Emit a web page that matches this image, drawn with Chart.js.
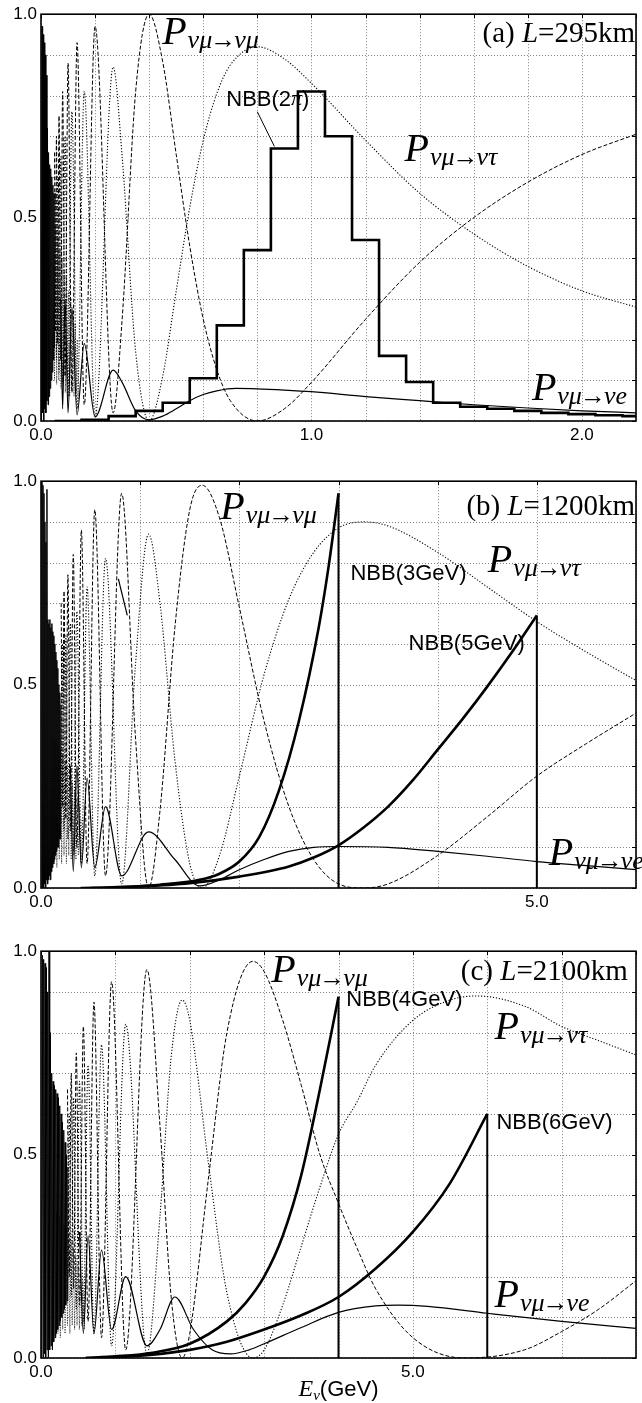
<!DOCTYPE html>
<html lang="en">
<head>
<meta charset="UTF-8">
<title>Oscillation probabilities and NBB spectra</title>
<script src="https://cdn.jsdelivr.net/npm/chart.js"></script>
<style>
  body { margin:0; background:#fff; }
  .wrap { position:relative; width:642px; height:1403px; overflow:hidden; background:#fff }
  canvas { position:absolute; left:0 }
</style>
</head>
<body>
<div class="wrap">
  <canvas id="cA" width="642" height="467" style="top:0px"></canvas>
  <canvas id="cB" width="642" height="470" style="top:467px"></canvas>
  <canvas id="cC" width="642" height="466" style="top:937px"></canvas>
</div>
<script>
// ---- data: [E (GeV), probability / flux] ----
// (a) L=295km
const aMuMu = [[0.05,0.66],[0.0533,0.22],[0.0571,0.70],[0.0615,0.19],[0.0667,0.75],[0.0727,0.15],[0.08,0.81],[0.0889,0.11],[0.1,0.88],[0.1143,0.07],[0.1333,0.93],[0.16,0.04],[0.2,0.97],[0.2667,0.02],[0.3,0.25],[0.35,0.81],[0.4,1.0],[0.45,0.883],[0.5,0.655],[0.55,0.43],[0.6,0.25],[0.65,0.126],[0.7,0.05],[0.8,0.0],[0.9,0.03],[1.0,0.095],[1.2,0.25],[1.4,0.39],[1.6,0.5],[1.8,0.587],[2.0,0.655],[2.2,0.705]];
const aMuTau = [[0.05,0.18],[0.0533,0.56],[0.0571,0.15],[0.0615,0.60],[0.0667,0.12],[0.0727,0.65],[0.08,0.09],[0.0889,0.70],[0.1,0.06],[0.1143,0.76],[0.1333,0.03],[0.16,0.81],[0.2,0.01],[0.2667,0.87],[0.3,0.65],[0.35,0.17],[0.4,0.0],[0.45,0.11],[0.5,0.32],[0.55,0.525],[0.6,0.69],[0.65,0.805],[0.7,0.875],[0.8,0.92],[0.9,0.89],[1.0,0.83],[1.2,0.69],[1.4,0.56],[1.6,0.46],[1.8,0.38],[2.0,0.32],[2.2,0.28]];
const aMuE = [[0.0727,0.3],[0.08,0.03],[0.0889,0.3],[0.1,0.02],[0.1143,0.28],[0.1333,0.015],[0.16,0.19],[0.2,0.01],[0.2667,0.125],[0.3,0.095],[0.35,0.025],[0.4,0.003],[0.45,0.012],[0.5,0.03],[0.55,0.05],[0.6,0.065],[0.65,0.074],[0.72,0.08],[0.8,0.079],[0.9,0.076],[1.0,0.072],[1.2,0.06],[1.4,0.05],[1.6,0.04],[1.8,0.032],[2.0,0.025],[2.2,0.02]];
const aDense = [[0.002,0.0],[0.004,0.97],[0.006,0.02],[0.008,0.95],[0.010,0.0],[0.012,0.93],[0.014,0.03],[0.016,0.9],[0.018,0.02],[0.020,0.85],[0.022,0.05],[0.024,0.72],[0.026,0.04],[0.028,0.66],[0.030,0.06],[0.032,0.63],[0.034,0.08],[0.036,0.62],[0.038,0.1],[0.040,0.6],[0.042,0.12],[0.044,0.58],[0.046,0.15],[0.048,0.56],[0.050,0.18]];
const aTex = [[0.046,0.5],[0.050,0.1],[0.054,0.48],[0.058,0.09],[0.062,0.45],[0.066,0.1],[0.070,0.42],[0.074,0.08],[0.078,0.4],[0.082,0.1],[0.086,0.37],[0.090,0.07],[0.094,0.35],[0.098,0.09],[0.102,0.32],[0.106,0.06],[0.110,0.3],[0.114,0.08],[0.118,0.27],[0.122,0.06],[0.126,0.24],[0.130,0.07],[0.134,0.2],[0.138,0.05]];
// histogram NBB(2pi): bin left edge, height
const aNBB = [[0.05,0],[0.15,0.003],[0.25,0.012],[0.35,0.025],[0.45,0.045],[0.55,0.105],[0.65,0.235],[0.75,0.42],[0.85,0.67],[0.95,0.81],[1.05,0.70],[1.15,0.445],[1.25,0.16],[1.35,0.096],[1.45,0.045],[1.55,0.035],[1.65,0.03],[1.75,0.025],[1.85,0.02],[1.95,0.017],[2.05,0.014],[2.15,0.012],[2.25,0.012]];

// (b) L=1200km
const bMuMu = [[0.2034,0.70],[0.2169,0.2],[0.2324,0.73],[0.2503,0.17],[0.2712,0.77],[0.2958,0.14],[0.3254,0.82],[0.3616,0.1],[0.4068,0.88],[0.4649,0.06],[0.5423,0.93],[0.6508,0.03],[0.8135,0.97],[0.95,0.38],[1.085,0.0],[1.2,0.19],[1.35,0.64],[1.5,0.93],[1.627,0.99],[1.8,0.91],[2.0,0.69],[2.25,0.41],[2.5,0.2],[2.75,0.07],[3.0,0.01],[3.254,0.0],[3.5,0.01],[4.0,0.08],[4.5,0.175],[5.0,0.275],[5.5,0.355],[6.0,0.43]];
const bMuTau = [[0.2034,0.16],[0.2169,0.6],[0.2324,0.14],[0.2503,0.62],[0.2712,0.12],[0.2958,0.65],[0.3254,0.09],[0.3616,0.68],[0.4068,0.06],[0.4649,0.74],[0.5423,0.03],[0.6508,0.81],[0.8135,0.01],[0.95,0.54],[1.085,0.87],[1.2,0.7],[1.35,0.315],[1.5,0.06],[1.627,0.0],[1.8,0.08],[2.0,0.275],[2.25,0.525],[2.5,0.71],[2.75,0.825],[3.0,0.885],[3.254,0.9],[3.5,0.89],[4.0,0.825],[4.5,0.74],[5.0,0.655],[5.5,0.58],[6.0,0.51]];
const bMuE = [[0.2958,0.3],[0.3254,0.04],[0.3616,0.3],[0.4068,0.05],[0.4649,0.27],[0.5423,0.05],[0.6508,0.2],[0.8135,0.03],[1.085,0.138],[1.35,0.07],[1.6,0.005],[1.8,0.02],[2.0,0.045],[2.25,0.07],[2.5,0.09],[2.75,0.1],[3.0,0.102],[3.5,0.1],[4.0,0.09],[4.5,0.078],[5.0,0.065],[5.5,0.055],[6.0,0.045]];
const bDense = [[0.005,0.0],[0.010,1.0],[0.015,0.0],[0.020,0.99],[0.025,0.0],[0.030,0.97],[0.035,0.01],[0.040,0.9],[0.045,0.0],[0.050,0.85],[0.055,0.02],[0.060,0.98],[0.065,0.01],[0.070,0.66],[0.075,0.02],[0.080,0.65],[0.085,0.03],[0.090,0.66],[0.095,0.02],[0.100,0.64],[0.105,0.04],[0.110,0.65],[0.115,0.05],[0.120,0.63],[0.125,0.06],[0.130,0.62],[0.135,0.07],[0.140,0.6],[0.145,0.08],[0.150,0.58],[0.155,0.09],[0.160,0.56],[0.165,0.1],[0.170,0.54],[0.175,0.1],[0.180,0.5],[0.185,0.12],[0.190,0.48],[0.195,0.12],[0.200,0.45]];
const bTex = [[0.100,0.38],[0.112,0.05],[0.124,0.37],[0.136,0.06],[0.148,0.36],[0.160,0.05],[0.172,0.35],[0.184,0.07],[0.196,0.34],[0.208,0.06],[0.220,0.33],[0.232,0.08],[0.244,0.31],[0.256,0.06],[0.268,0.3],[0.280,0.08],[0.292,0.28],[0.304,0.07],[0.316,0.26],[0.328,0.08],[0.340,0.24],[0.352,0.07],[0.364,0.22],[0.376,0.08],[0.388,0.2],[0.400,0.07],[0.412,0.17]];
const bNBB3 = [[0.4,0],[0.8,0.002],[1.2,0.008],[1.6,0.02],[1.8,0.035],[2.0,0.065],[2.2,0.125],[2.4,0.24],[2.6,0.41],[2.8,0.64],[2.9,0.79],[3.0,0.97]];
const bNBB5 = [[0.5,0],[1.0,0.004],[1.5,0.012],[2.0,0.028],[2.5,0.053],[2.75,0.075],[3.0,0.105],[3.25,0.148],[3.5,0.2],[3.75,0.265],[4.0,0.34],[4.25,0.415],[4.5,0.495],[4.75,0.58],[5.0,0.67]];
const bStray = [[0.78,0.76],[0.87,0.67]];

// (c) L=2100km
const cMuMu = [[0.3559,0.66],[0.3797,0.2],[0.4068,0.7],[0.4381,0.17],[0.4746,0.75],[0.5177,0.13],[0.5695,0.815],[0.6328,0.09],[0.7119,0.875],[0.8136,0.05],[0.9492,0.925],[1.139,0.02],[1.424,0.955],[1.6,0.57],[1.75,0.15],[1.898,0.0],[2.0,0.06],[2.25,0.44],[2.5,0.8],[2.848,0.975],[3.0,0.95],[3.25,0.83],[3.5,0.67],[3.75,0.5],[4.0,0.38],[4.25,0.27],[4.5,0.17],[5.0,0.05],[5.695,0.0],[6.5,0.02],[7.0,0.065],[7.5,0.12],[8.0,0.19]];
const cMuTau = [[0.3559,0.17],[0.3797,0.6],[0.4068,0.15],[0.4381,0.64],[0.4746,0.12],[0.5177,0.68],[0.5695,0.09],[0.6328,0.72],[0.7119,0.06],[0.8136,0.77],[0.9492,0.03],[1.139,0.82],[1.424,0.01],[1.6,0.35],[1.75,0.74],[1.898,0.88],[2.0,0.83],[2.25,0.48],[2.5,0.16],[2.848,0.0],[3.0,0.02],[3.25,0.13],[3.5,0.275],[3.75,0.42],[4.0,0.55],[4.25,0.63],[4.5,0.72],[5.0,0.83],[5.5,0.88],[5.85,0.89],[6.5,0.865],[7.0,0.815],[7.5,0.78],[8.0,0.745]];
const cMuE = [[0.5177,0.31],[0.5695,0.06],[0.6328,0.3],[0.7119,0.06],[0.8136,0.265],[0.9492,0.07],[1.139,0.2],[1.424,0.03],[1.6,0.07],[1.8,0.15],[2.05,0.07],[2.3,0.02],[2.55,0.01],[2.8,0.02],[3.0,0.035],[3.5,0.075],[4.0,0.112],[4.5,0.128],[4.8,0.13],[5.2,0.127],[6.0,0.11],[7.0,0.09],[8.0,0.073]];
const cDense = [[0.009,0.0],[0.018,0.99],[0.027,0.0],[0.036,0.98],[0.045,0.01],[0.054,0.97],[0.063,0.0],[0.072,0.96],[0.081,0.02],[0.090,0.9],[0.099,0.0],[0.108,1.0],[0.117,0.02],[0.126,0.8],[0.135,0.03],[0.144,0.7],[0.153,0.02],[0.162,0.68],[0.171,0.04],[0.180,0.67],[0.189,0.05],[0.198,0.66],[0.207,0.06],[0.216,0.65],[0.225,0.07],[0.234,0.64],[0.243,0.08],[0.252,0.62],[0.261,0.09],[0.270,0.6],[0.279,0.1],[0.288,0.58],[0.297,0.11],[0.306,0.56],[0.315,0.12],[0.324,0.53],[0.333,0.13],[0.342,0.5],[0.351,0.14],[0.360,0.47]];
const cTex = [[0.18,0.37],[0.196,0.05],[0.212,0.36],[0.228,0.06],[0.244,0.35],[0.26,0.05],[0.276,0.34],[0.292,0.07],[0.308,0.33],[0.324,0.06],[0.34,0.32],[0.356,0.08],[0.372,0.3],[0.388,0.06],[0.404,0.29],[0.42,0.08],[0.436,0.27],[0.452,0.07],[0.468,0.25],[0.484,0.08],[0.5,0.23],[0.516,0.07],[0.532,0.21],[0.548,0.08],[0.564,0.19],[0.58,0.07],[0.596,0.16]];
const cNBB4 = [[0.6,0],[1.0,0.004],[1.5,0.013],[2.0,0.035],[2.5,0.09],[2.75,0.135],[3.0,0.2],[3.25,0.3],[3.5,0.45],[3.75,0.66],[4.0,0.888]];
const cNBB6 = [[0.6,0],[1.0,0.002],[1.5,0.008],[2.0,0.02],[2.5,0.04],[3.0,0.07],[3.5,0.105],[4.0,0.15],[4.5,0.22],[5.0,0.31],[5.5,0.43],[6.0,0.6]];

// axis tick labels
const yLabels = [0, 0.5, 1];
const aXLabels = [0, 1, 2];
const bXLabels = [0, 5];
const cXLabels = [0, 5];

// ---- styles ----
const SERIF = '"Liberation Serif", "DejaVu Serif", serif';
const SANS = '"Liberation Sans", Arial, sans-serif';
const sMuMu  = {borderColor:'#000', borderWidth:1, borderDash:[4,2], cubicInterpolationMode:'monotone'};
const sMuTau = {borderColor:'#000', borderWidth:1.1, borderDash:[1.2,1.8], cubicInterpolationMode:'monotone'};
const sMuE   = {borderColor:'#000', borderWidth:1.2, cubicInterpolationMode:'monotone'};
const sDense = {borderColor:'#000', borderWidth:1, tension:0};
const sTex   = {borderColor:'#333', borderWidth:1, borderDash:[1,1.5], tension:0};
const sNBB   = {borderColor:'#000', borderWidth:2.6, cubicInterpolationMode:'monotone'};
const sHist  = {borderColor:'#000', borderWidth:2.6, stepped:'before'};
const sDrop  = {borderColor:'#000', borderWidth:2, tension:0};
const sThin  = {borderColor:'#000', borderWidth:1.2, tension:0};

function toXY(arr){ return arr.map(p => ({x:p[0], y:p[1]})); }
function ds(arr, style){ return Object.assign({data:toXY(arr), pointRadius:0, fill:false}, style); }
// vertical cut-off line at the end of an NBB curve
function drop(arr){ const l = arr[arr.length-1]; return ds([[l[0], l[1]], [l[0], 0]], sDrop); }

// text helpers: part = [text, font, dy, kernBefore, kernAfter]
function runs(ctx, px, py, parts, align){
  let w = 0;
  parts.forEach(p => { ctx.font = p[1]; w += ctx.measureText(p[0]).width + (p[3] || 0) + (p[4] || 0); });
  let cx = align === 'right' ? px - w : align === 'center' ? px - w/2 : px;
  parts.forEach(p => {
    ctx.font = p[1];
    cx += p[3] || 0;
    ctx.fillText(p[0], cx, py + (p[2] || 0));
    cx += ctx.measureText(p[0]).width + (p[4] || 0);
  });
}
function probParts(to){
  return [['P', 'italic 40px ' + SERIF, 0, 0, 1], ['\u03BD\u03BC', 'italic 26px ' + SERIF, 4],
          ['\u2192', '26px ' + SERIF, 4, -2, -2], ['\u03BD' + to, 'italic 26px ' + SERIF, 4]];
}
function titleParts(pre, post){
  return [[pre, '29px ' + SERIF], ['L', 'italic 29px ' + SERIF], [post, '29px ' + SERIF]];
}
function nbbParts(txt){ return [[txt, '22px ' + SANS]]; }

function panelPlugin(texts){
  return {
    id: 'panel',
    beforeDatasetsDraw(chart){
      const {ctx, chartArea:a, scales:{x, y}} = chart;
      ctx.save();
      ctx.strokeStyle = '#808080'; ctx.lineWidth = 1; ctx.setLineDash([1,2]);
      ctx.beginPath();
      x.ticks.forEach(t => { const px = Math.round(x.getPixelForValue(t.value)) + 0.5; ctx.moveTo(px, a.top); ctx.lineTo(px, a.bottom); });
      y.ticks.forEach(t => { const py = Math.round(y.getPixelForValue(t.value)) + 0.5; ctx.moveTo(a.left, py); ctx.lineTo(a.right, py); });
      ctx.stroke();
      ctx.restore();
    },
    afterDraw(chart){
      const {ctx, chartArea:a, scales:{x, y}} = chart;
      ctx.save();
      ctx.strokeStyle = '#000'; ctx.lineWidth = 1;
      ctx.beginPath();
      x.ticks.forEach(t => { const px = Math.round(x.getPixelForValue(t.value)) + 0.5; ctx.moveTo(px, a.top); ctx.lineTo(px, a.top + 4); });
      y.ticks.forEach(t => { const py = Math.round(y.getPixelForValue(t.value)) + 0.5; ctx.moveTo(a.right, py); ctx.lineTo(a.right - 4, py); });
      ctx.stroke();
      ctx.lineWidth = 1.6;
      ctx.strokeRect(a.left, a.top, a.right - a.left, a.bottom - a.top);
      ctx.fillStyle = '#000';
      texts.forEach(t => {
        if (t.line) {
          ctx.lineWidth = 1;
          ctx.beginPath();
          ctx.moveTo(x.getPixelForValue(t.line[0][0]), y.getPixelForValue(t.line[0][1]));
          ctx.lineTo(x.getPixelForValue(t.line[1][0]), y.getPixelForValue(t.line[1][1]));
          ctx.stroke();
          return;
        }
        ctx.textBaseline = t.base || 'alphabetic';
        const px = t.x === 'mid' ? (a.left + a.right) / 2 : x.getPixelForValue(t.x);
        const py = t.below !== undefined ? a.bottom + t.below : y.getPixelForValue(t.y);
        runs(ctx, px + (t.dx || 0), py, t.parts, t.align);
      });
      ctx.restore();
    }
  };
}

function makeChart(id, datasets, xmax, xstep, xlabels, axisH, texts){
  return new Chart(document.getElementById(id), {
    type: 'line',
    data: { datasets },
    options: {
      responsive: false, animation: false, devicePixelRatio: 1,
      layout: { padding: { top: 12, right: 6, left: 0, bottom: 0 } },
      plugins: { legend: { display: false }, tooltip: { enabled: false } },
      elements: { point: { radius: 0 } },
      scales: {
        x: {
          type: 'linear', min: 0, max: xmax,
          afterFit: s => { s.height = axisH; },
          grid: { display: false, drawTicks: false },
          border: { display: false },
          ticks: {
            stepSize: xstep, autoSkip: false, maxRotation: 0, minRotation: 0, padding: 4,
            color: '#000', font: { family: SANS, size: 17 },
            callback: v => xlabels.some(t => Math.abs(t - v) < 1e-6) ? v.toFixed(1) : ''
          }
        },
        y: {
          min: 0, max: 1,
          afterFit: s => { s.width = 41; },
          grid: { display: false, drawTicks: false },
          border: { display: false },
          ticks: {
            stepSize: 0.1, autoSkip: false, padding: 4,
            color: '#000', font: { family: SANS, size: 17 },
            callback: v => yLabels.some(t => Math.abs(t - v) < 1e-6) ? v.toFixed(1) : ''
          }
        }
      }
    },
    plugins: [panelPlugin(texts)]
  });
}

// (a)
makeChart('cA', [
  ds(aNBB, sHist),
  ds(aMuE, sMuE),
  ds(aMuMu, sMuMu),
  ds(aMuTau, sMuTau),
  ds(aDense, sDense),
  ds(aTex, sTex)
], 2.2, 0.2, aXLabels, 46, [
  {x:2.2, y:0.932, align:'right', dx:-1, parts:titleParts('(a) ', '=295km')},
  {x:0.448, y:0.927, parts:probParts('\u03BC')},
  {x:1.344, y:0.638, parts:probParts('\u03C4')},
  {x:1.815, y:0.051, parts:probParts('e')},
  {x:0.685, y:0.79, base:'middle', parts:[['NBB(2', '22px ' + SANS], ['\u03C0', 'italic 22px ' + SERIF], [')', '22px ' + SANS]]},
  {line:[[0.8,0.76],[0.863,0.675]]}
]);

// (b)
makeChart('cB', [
  drop(bNBB3), ds(bNBB3, sNBB),
  drop(bNBB5), ds(bNBB5, sNBB),
  ds(bMuE, sMuE),
  ds(bStray, sThin),
  ds(bMuMu, sMuMu),
  ds(bMuTau, sMuTau),
  ds(bDense, sDense),
  ds(bTex, sTex)
], 6.0, 1.0, bXLabels, 49, [
  {x:6.0, y:0.917, align:'right', dx:-1, parts:titleParts('(b) ', '=1200km')},
  {x:1.808, y:0.907, parts:probParts('\u03BC')},
  {x:4.505, y:0.778, parts:probParts('\u03C4')},
  {x:5.12, y:0.056, parts:probParts('e')},
  {x:3.12, y:0.773, base:'middle', parts:nbbParts('NBB(3GeV)')},
  {x:3.707, y:0.6, base:'middle', parts:nbbParts('NBB(5GeV)')}
]);

// (c)
makeChart('cC', [
  drop(cNBB4), ds(cNBB4, sNBB),
  drop(cNBB6), ds(cNBB6, sNBB),
  ds(cMuE, sMuE),
  ds(cMuMu, sMuMu),
  ds(cMuTau, sMuTau),
  ds(cDense, sDense),
  ds(cTex, sTex)
], 8.0, 1.0, cXLabels, 45, [
  {x:7.89, y:0.929, align:'right', parts:titleParts('(c) ', '=2100km')},
  {x:3.096, y:0.924, parts:probParts('\u03BC')},
  {x:6.097, y:0.785, parts:probParts('\u03C4')},
  {x:6.097, y:0.125, parts:probParts('e')},
  {x:4.105, y:0.88, base:'middle', parts:nbbParts('NBB(4GeV)')},
  {x:6.124, y:0.577, base:'middle', parts:nbbParts('NBB(6GeV)')},
  {x:'mid', below:38, align:'center', parts:[['E', 'italic 24px ' + SERIF], ['\u03BD', 'italic 15px ' + SERIF, 4], ['(GeV)', '22px ' + SANS]]}
]);
</script>
</body>
</html>
